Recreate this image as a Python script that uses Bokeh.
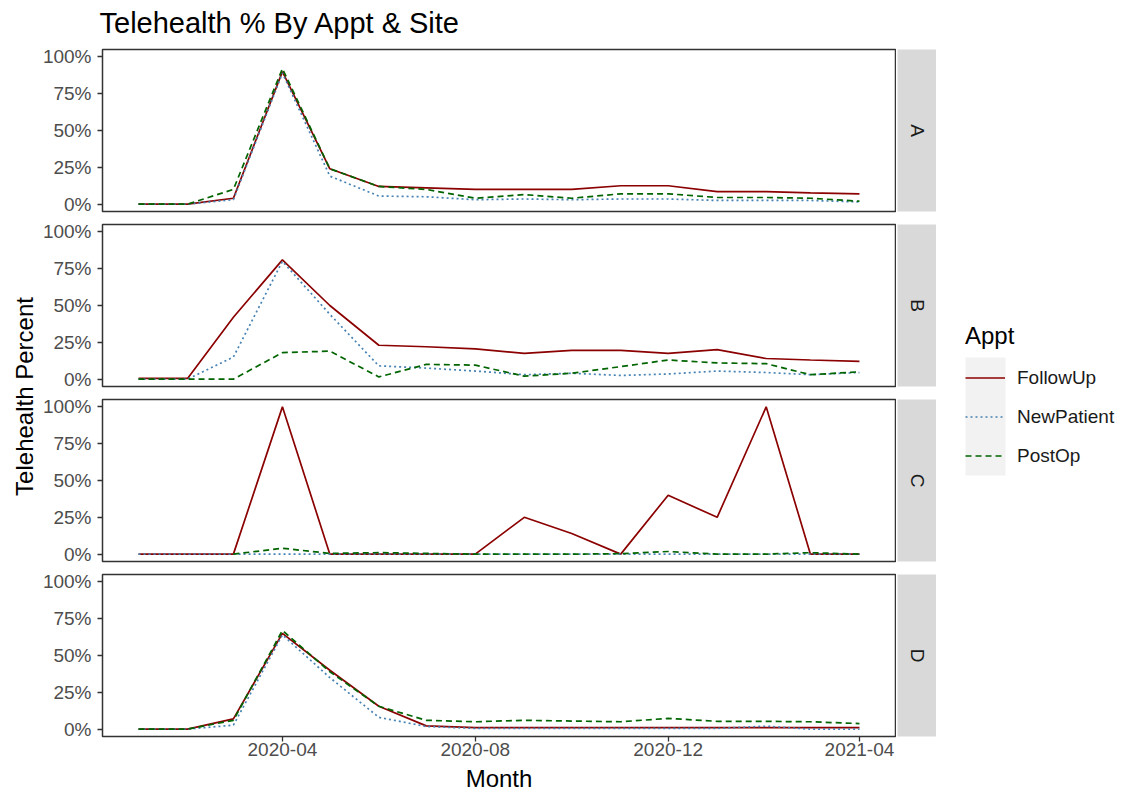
import math
import pandas as pd
from bokeh.plotting import figure
from bokeh.models import (Range1d, FixedTicker, NumeralTickFormatter, DatetimeTickFormatter,
                          Label, Legend, LegendItem, BoxAnnotation)
from bokeh.layouts import row, column
from bokeh.embed import file_html
from bokeh.resources import INLINE

# ---------------- data ----------------
months = ["2020-01", "2020-02", "2020-03", "2020-04", "2020-05", "2020-06", "2020-07", "2020-08",
          "2020-09", "2020-10", "2020-11", "2020-12", "2021-01", "2021-02", "2021-03", "2021-04"]
sites = ["A", "B", "C", "D"]
appts = ["FollowUp", "NewPatient", "PostOp"]
nan = float("nan")

A_FollowUp   = [0, 0, 0.04, 0.90, 0.24, 0.12, 0.11, 0.10, 0.10, 0.10, 0.125, 0.125, 0.085, 0.085, 0.077, 0.07]
A_NewPatient = [0, 0, 0.03, 0.89, 0.19, 0.055, 0.05, 0.03, 0.035, 0.03, 0.035, 0.035, 0.025, 0.025, 0.025, 0.015]
A_PostOp     = [0, 0, 0.10, 0.92, 0.24, 0.12, 0.10, 0.04, 0.065, 0.04, 0.07, 0.07, 0.045, 0.045, 0.04, 0.02]

B_FollowUp   = [0.005, 0.005, 0.42, 0.81, 0.50, 0.23, 0.22, 0.205, 0.175, 0.195, 0.195, 0.175, 0.20, 0.14, 0.13, 0.12]
B_NewPatient = [0, 0, 0.15, 0.80, 0.44, 0.09, 0.075, 0.055, 0.03, 0.04, 0.025, 0.035, 0.055, 0.045, 0.03, 0.045]
B_PostOp     = [0, 0, 0, 0.18, 0.19, 0.015, 0.10, 0.095, 0.02, 0.04, 0.085, 0.13, 0.11, 0.105, 0.03, 0.05]

C_FollowUp   = [0, 0, 0, 1.0, 0, 0, 0, 0, 0.25, 0.14, 0, 0.40, 0.25, 1.0, 0, 0]
C_NewPatient = [0, 0, 0, 0, 0, 0, 0, 0, 0, 0, 0, 0, 0, 0, 0, 0]
C_PostOp     = [nan, nan, 0, 0.04, 0.005, 0.01, 0.005, 0, 0, 0, 0.003, 0.018, 0, 0, 0.01, 0]

D_FollowUp   = [0, 0, 0.07, 0.65, 0.40, 0.155, 0.022, 0.01, 0.01, 0.01, 0.01, 0.01, 0.01, 0.01, 0.01, 0.01]
D_NewPatient = [0, 0, 0.027, 0.64, 0.35, 0.08, 0.018, 0.005, 0.005, 0.005, 0.005, 0.005, 0.005, 0.02, 0, 0]
D_PostOp     = [0, 0, 0.06, 0.67, 0.39, 0.155, 0.06, 0.05, 0.06, 0.055, 0.05, 0.073, 0.053, 0.053, 0.05, 0.038]

x_tick_labels = ["2020-04", "2020-08", "2020-12", "2021-04"]
y_ticks = [0, 0.25, 0.5, 0.75, 1.0]

series = {
    "A": {"FollowUp": A_FollowUp, "NewPatient": A_NewPatient, "PostOp": A_PostOp},
    "B": {"FollowUp": B_FollowUp, "NewPatient": B_NewPatient, "PostOp": B_PostOp},
    "C": {"FollowUp": C_FollowUp, "NewPatient": C_NewPatient, "PostOp": C_PostOp},
    "D": {"FollowUp": D_FollowUp, "NewPatient": D_NewPatient, "PostOp": D_PostOp},
}

TITLE = "Telehealth % By Appt & Site"
X_TITLE = "Month"
Y_TITLE = "Telehealth Percent"
LEGEND_TITLE = "Appt"

# ---------------- style ----------------
FONT = "Liberation Sans"
COLORS = {"FollowUp": "#8B0000", "NewPatient": "#4682B4", "PostOp": "#006400"}
DASHES = {"FollowUp": "solid", "NewPatient": "2 3", "PostOp": "6 4"}
WIDTH = 1.7

dates = pd.to_datetime(months, format="%Y-%m")
span = dates[-1] - dates[0]
x_start = (dates[0] - span * 0.05).to_pydatetime()
x_end = (dates[-1] + span * 0.05).to_pydatetime()
x_ticks_ms = [pd.Timestamp(t).timestamp() * 1000 for t in x_tick_labels]

TOTAL_H = 791
LEFT_W = 38
PANEL_W = 858
STRIP_W = 40
LEG_W = 180
HEAD_H = 42
FRAME_H = 162
TOP_B = 7
BOT_B = 6
AXIS_B = 28
FOOT_H = TOTAL_H - HEAD_H - 3 * (TOP_B + FRAME_H + BOT_B) - (TOP_B + FRAME_H + AXIS_B)
BODY_W = PANEL_W + STRIP_W


def blank(width, height):
    f = figure(width=width, height=height, x_range=Range1d(0, width), y_range=Range1d(0, height),
               output_backend="svg", toolbar_location=None, min_border=0,
               x_axis_location=None, y_axis_location=None)
    f.grid.visible = False
    f.outline_line_color = None
    f.background_fill_color = "white"
    f.border_fill_color = "white"
    return f


def make_panel(site, last):
    bot = AXIS_B if last else BOT_B
    p = figure(width=PANEL_W, height=TOP_B + FRAME_H + bot, x_axis_type="datetime",
               x_range=Range1d(x_start, x_end), y_range=Range1d(-0.05, 1.05),
               output_backend="svg", toolbar_location=None,
               min_border_left=64, min_border_right=1, min_border_top=TOP_B, min_border_bottom=bot,
               x_axis_location="below" if last else None, y_axis_location="left")
    p.grid.visible = False
    p.background_fill_color = "white"
    p.border_fill_color = "white"
    p.outline_line_color = "#333333"
    p.outline_line_width = 1.5
    for a in appts:
        p.line(x=dates, y=series[site][a], line_color=COLORS[a], line_dash=DASHES[a],
               line_width=WIDTH)
    ax = p.yaxis[0]
    ax.ticker = FixedTicker(ticks=y_ticks)
    ax.formatter = NumeralTickFormatter(format="0%")
    ax.major_label_standoff = 6
    axes = [ax]
    if last:
        xa = p.xaxis[0]
        xa.ticker = FixedTicker(ticks=x_ticks_ms)
        xa.formatter = DatetimeTickFormatter(days="%Y-%m", months="%Y-%m", years="%Y-%m")
        xa.major_label_standoff = 1
        axes.append(xa)
    for a in axes:
        a.axis_line_color = None
        a.major_tick_line_color = "#333333"
        a.major_tick_line_width = 1.3
        a.major_tick_out = 5
        a.major_tick_in = 0
        a.minor_tick_line_color = None
        a.major_label_text_font = FONT
        a.major_label_text_font_size = "19px"
        a.major_label_text_color = "#4d4d4d"
    return p


def make_strip(site, last):
    bot = AXIS_B if last else BOT_B
    s = figure(width=STRIP_W, height=TOP_B + FRAME_H + bot,
               x_range=Range1d(0, 1), y_range=Range1d(0, 1),
               output_backend="svg", toolbar_location=None,
               min_border_left=1, min_border_right=0, min_border_top=TOP_B, min_border_bottom=bot,
               x_axis_location=None, y_axis_location=None)
    s.grid.visible = False
    s.border_fill_color = "white"
    s.background_fill_color = "#d9d9d9"
    s.outline_line_color = None
    s.add_layout(Label(x=0.5, y=0.5, text=site, angle=-math.pi / 2, text_align="center",
                       text_baseline="middle", text_font=FONT, text_font_size="19px",
                       text_color="#1a1a1a"))
    return s


# header with the chart title
head = blank(BODY_W, HEAD_H)
head.add_layout(Label(x=61, y=19.5, text=TITLE, text_align="left", text_baseline="middle",
                      text_font=FONT, text_font_size="29px", text_color="black"))

rows = [head]
for i, site in enumerate(sites):
    last = i == len(sites) - 1
    rows.append(row(make_panel(site, last), make_strip(site, last)))

# footer with the x-axis title
foot = blank(BODY_W, FOOT_H)
foot.add_layout(Label(x=460.5, y=FOOT_H / 2, text=X_TITLE, text_align="center",
                      text_baseline="middle", text_font=FONT, text_font_size="24px",
                      text_color="black"))
rows.append(foot)
body = column(*rows)

# y-axis title column
ylab = blank(LEFT_W, TOTAL_H)
ylab.add_layout(Label(x=23.5, y=395, text=Y_TITLE, angle=math.pi / 2, text_align="center",
                      text_baseline="middle", text_font=FONT, text_font_size="24px",
                      text_color="black"))

# legend column
leg = blank(LEG_W, TOTAL_H)
leg.add_layout(BoxAnnotation(left=29, right=69, bottom=316, top=434, fill_color="#f2f2f2",
                             fill_alpha=1, line_color=None, level="underlay"))
items = []
for a in appts:
    r = leg.line(x=[nan], y=[nan], line_color=COLORS[a], line_dash=DASHES[a], line_width=WIDTH)
    items.append(LegendItem(label=a, renderers=[r]))
legend = Legend(items=items, location=(29, 316), padding=0, margin=0, spacing=0,
                glyph_width=40, glyph_height=39, label_standoff=12,
                title=LEGEND_TITLE, title_text_font=FONT, title_text_font_size="24px",
                title_text_font_style="normal", title_text_color="black", title_standoff=8,
                label_text_font=FONT, label_text_font_size="19px", label_text_color="#1a1a1a",
                border_line_color=None, background_fill_alpha=0)
leg.add_layout(legend)

layout = row(ylab, body, leg)

with open("out.html", "w") as f:
    f.write(file_html(layout, INLINE))
